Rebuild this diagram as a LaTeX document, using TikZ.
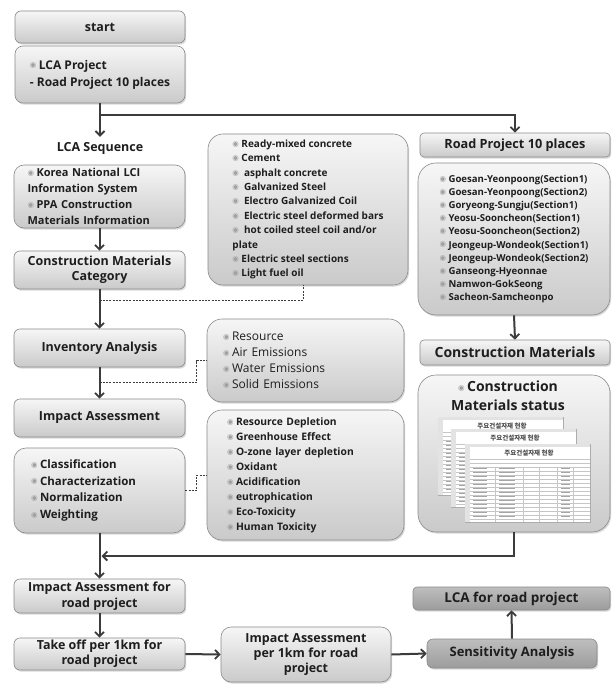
\documentclass[tikz,border=0pt]{standalone}
\usepackage{fontspec}
\setmainfont{Open Sans}
\newfontfamily\symf{DejaVu Sans}
\newfontfamily\krfont{Noto Sans CJK KR}
\usetikzlibrary{arrows.meta,shadows,calc}
\definecolor{txt}{HTML}{1E1E1E}
\definecolor{edge}{HTML}{8A8A8A}
\definecolor{arr}{HTML}{3C3C3C}
\definecolor{ltop}{HTML}{F6F6F6}
\definecolor{lbot}{HTML}{CACACA}
\definecolor{dtop}{HTML}{BEBEBE}
\definecolor{dbot}{HTML}{9C9C9C}
\newcommand\bul{\raisebox{0.2ex}{\textcolor{gray!75}{\fontsize{7.5}{7.5}\symf ◉}}\hspace{2.5pt}}
\newcommand\fs[2]{\fontsize{#1}{#2}\selectfont}
\tikzset{
  base/.style={draw=edge, line width=0.6pt, text=txt, top color=ltop, bottom color=lbot,
    drop shadow={opacity=0.3, shadow xshift=1.2pt, shadow yshift=-1.6pt}},
  hbox/.style={base, rounded corners=6pt, align=center, inner sep=0pt, font=\bfseries\fs{12.5}{15.5}},
  lbox/.style={base, rounded corners=15pt, align=left, inner ysep=0pt},
  dbox/.style={hbox, top color=dtop, bottom color=dbot},
  conn/.style={draw=arr, line width=2pt, -{Straight Barb[length=4.5pt,width=9pt,line width=1.8pt]}},
  dline/.style={draw=arr, line width=0.9pt, dash pattern=on 2pt off 1.3pt},
  sheet/.pic={
    \draw[gray!65, fill=white, line width=0.4pt] (0,0) rectangle (125,78);
    \fill[gray!22] (0.3,0.3) rectangle (124.7,3);
    \fill[gray!22] (0.3,0.3) rectangle (5,77.7);
    \node[font=\krfont\bfseries\fs{6.5}{6.5}, text=gray!60!black, inner sep=0pt] at (64,9) {주요건설자재 현황};
    \foreach \yy in {15,19,...,75} \draw[gray!45, line width=0.3pt] (5,\yy) -- (125,\yy);
    \foreach \xx in {30,58,74,92,108} \draw[gray!45, line width=0.3pt] (\xx,23) -- (\xx,78);
    \foreach \yy in {26,30,...,74} {\draw[gray!70, line width=1pt] (8,\yy-1.5) -- (22,\yy-1.5);
      \draw[gray!70, line width=1pt] (34,\yy-1.5) -- (50,\yy-1.5);
      \draw[gray!70, line width=1pt] (96,\yy-1.5) -- (105,\yy-1.5);}
  }
}
\begin{document}
\begin{tikzpicture}[x=1pt, y=-1pt]
\fill[white] (0,0) rectangle (614,684);
\useasboundingbox (0,0) rectangle (614,684);

% left column
\node[hbox, minimum width=170pt, minimum height=32pt] (start) at (100,27) {start};
\node[lbox, rounded corners=8pt, minimum width=170pt, minimum height=57pt, font=\bfseries\fs{12}{17}] (proj) at (100,74.5) {\bul LCA Project\\- Road Project 10 places};
\node[font=\bfseries\fs{12.5}{15}, text=txt, inner sep=5pt] (lcaseq) at (100,148) {LCA Sequence};
\node[lbox, rounded corners=10pt, text width=144pt, inner xsep=13.5pt, minimum height=63pt, font=\bfseries\fs{11}{16}] (korea) at (99.5,196.5)
  {\bul Korea National LCI\\Information System\\\bul PPA Construction\\Materials Information};
\node[hbox, minimum width=171pt, minimum height=38pt] (cmc) at (99.5,270) {Construction Materials\\Category};
\node[hbox, minimum width=171pt, minimum height=38pt] (inv) at (99.5,348) {Inventory Analysis};
\node[hbox, minimum width=171pt, minimum height=38pt] (ia) at (99.5,418) {Impact Assessment};
\node[lbox, rounded corners=12pt, text width=137pt, inner xsep=17pt, minimum height=85pt, font=\bfseries\fs{11.5}{16.7}] (cls) at (99.5,490.5)
  {\bul Classification\\\bul Characterization\\\bul Normalization\\\bul Weighting};
\node[hbox, minimum width=171pt, minimum height=34pt, font=\bfseries\fs{12.5}{15.5}] (iar) at (99.5,596) {Impact Assessment for\\road project};
\node[hbox, minimum width=171pt, minimum height=32pt, font=\bfseries\fs{12.5}{15}] (take) at (99.5,654) {Take off per 1km for\\road project};

% middle column
\node[lbox, minimum width=200pt, minimum height=151pt, font=\bfseries\fs{10}{14.4}] (rm) at (308,209.5)
  {\bul Ready-mixed concrete\\\bul Cement\\\bul\ asphalt concrete\\\bul\ Galvanized Steel\\\bul\ Electro Galvanized Coil\\\bul\ Electric steel deformed bars\\\bul\ hot coiled steel coil and/or\\plate\\\bul Electric steel sections\\\bul Light fuel oil};
\node[lbox, text width=165pt, inner xsep=16pt, minimum height=83pt, font=\fs{12}{16}] (res) at (305.5,360.5)
  {\bul Resource\\\bul Air Emissions\\\bul Water Emissions\\\bul Solid Emissions};
\node[lbox, text width=157pt, inner xsep=20pt, minimum height=130pt, font=\bfseries\fs{10.3}{15}] (imp) at (305.5,475)
  {\bul Resource Depletion\\\bul Greenhouse Effect\\\bul O-zone layer depletion\\\bul Oxidant\\\bul Acidification\\\bul eutrophication\\\bul Eco-Toxicity\\\bul Human Toxicity};
\node[hbox, rounded corners=10pt, minimum width=170pt, minimum height=55pt, font=\bfseries\fs{12.5}{15}] (iap) at (306,654.5) {Impact Assessment\\per 1km for road\\project};

% right column
\node[hbox, rounded corners=4pt, minimum width=190pt, minimum height=24pt, font=\bfseries\fs{12.7}{15}] (rp10) at (515,145) {Road Project 10 places};
\node[lbox, rounded corners=18pt, minimum width=192pt, minimum height=152pt, font=\bfseries\fs{9.6}{13.1}] (rlist) at (514,239)
  {\bul Goesan-Yeonpoong(Section1)\\\bul Goesan-Yeonpoong(Section2)\\\bul Goryeong-Sungju(Section1)\\\bul Yeosu-Sooncheon(Section1)\\\bul Yeosu-Sooncheon(Section2)\\\bul Jeongeup-Wondeok(Section1)\\\bul Jeongeup-Wondeok(Section2)\\\bul Ganseong-Hyeonnae\\\bul Namwon-GokSeong\\\bul Sacheon-Samcheonpo};
\node[hbox, rounded corners=4pt, minimum width=190pt, minimum height=25pt, font=\bfseries\fs{14}{16}] (cm) at (515,352.5) {Construction Materials};
\node[lbox, rounded corners=18pt, minimum width=192pt, minimum height=157pt] (stat) at (514,453.5) {};
\node[font=\bfseries\fs{14}{19}, text=txt, align=center, inner sep=0pt] (stattext) at (508,396) {\bul Construction\\Materials status};
\pic at (438,417) {sheet};
\pic at (451,429) {sheet};
\pic at (465,444) {sheet};

\node[dbox, minimum width=170pt, minimum height=29pt, font=\bfseries\fs{13}{15}] (sens) at (512,653.5) {Sensitivity Analysis};
\node[dbox, rounded corners=4pt, minimum width=197pt, minimum height=23pt, font=\bfseries\fs{13.5}{15}] (lcar) at (511.5,598.5) {LCA for road project};

% connectors
\draw[conn] (proj.south) -- (lcaseq.north);
\coordinate (br) at ($(proj.south)+(0,12)$);
\draw[conn] (br) -| (rp10.north);
\draw[conn] (korea.south) -- (cmc.north);
\draw[conn] (cmc.south) -- (inv.north);
\coordinate (d1) at ($(cmc.south)+(0,11)$);
\draw[dline] (d1) -| ($(rm.south)+(-5,0)$);
\draw[conn] (inv.south) -- (ia.north);
\coordinate (d2) at ($(inv.south)+(0,15)$);
\draw[dline] (d2) -| ($(res.west)+(-10,0)$) -- (res.west);
\draw[dline] (cls.east) -| ($(imp.west)+(-10,0)$) -- (imp.west);
\draw[conn] (cls.south) -- (iar.north);
\coordinate (m1) at ($(cls.south)!0.5!(iar.north)+(2,0)$);
\draw[conn] (stat.south) |- (m1);
\draw[conn] (rlist.south) -- (cm.north);
\draw[conn] (iar.south) -- (take.north);
\draw[conn] (take.east) -- (iap.west);
\draw[conn] (iap.east) -- (sens.west);
\draw[conn] (sens.north) -- (lcar.south);
\end{tikzpicture}
\end{document}
